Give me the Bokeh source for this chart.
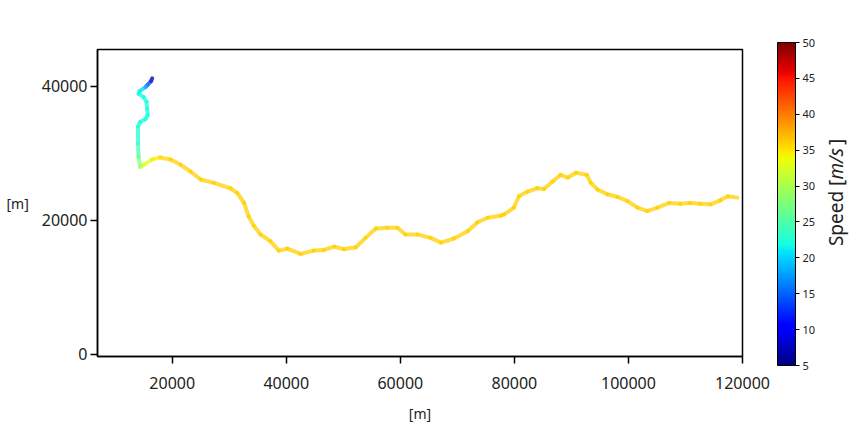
import numpy as np
from bokeh.plotting import figure
from bokeh.models import (ColumnDataSource, LinearColorMapper, ColorBar, FixedTicker,
                          BasicTickFormatter, Range1d)
from bokeh.layouts import row
from bokeh.embed import file_html
from bokeh.resources import INLINE
from bokeh.core.properties import value

# ---------------- data ----------------
path_x = [16500, 16300, 15300, 14300, 14100, 15000, 15500, 15600, 15700, 15300, 14400,
          14000, 14000, 14100, 14400, 15000, 16500, 17900, 19700, 21500, 23200, 25000,
          27300, 30200, 31400, 32600, 33400, 34300, 35500, 37200, 38700, 40200, 42500,
          44800, 46600, 48400, 50100, 52200, 53900, 55700, 57700, 59500, 60900, 63000,
          65300, 67100, 69400, 71800, 73500, 75300, 77600, 78200, 79900, 80800, 82300,
          84000, 85200, 86700, 88100, 89400, 90800, 92700, 93400, 94600, 96300, 98100,
          99800, 101600, 103300, 105100, 107100, 109100, 110800, 112600, 114400, 116100,
          117400, 119100]
path_y = [41200, 40800, 39900, 39300, 38900, 38400, 37700, 36700, 35700, 35100, 34700,
          34000, 31500, 29500, 28000, 28300, 29100, 29400, 29100, 28300, 27300, 26100,
          25600, 24800, 24100, 22600, 20600, 19200, 17900, 16900, 15500, 15800, 15000,
          15500, 15600, 16100, 15700, 16000, 17400, 18800, 18900, 18900, 17900, 17900,
          17400, 16700, 17300, 18400, 19700, 20400, 20700, 20900, 21900, 23600, 24300,
          24800, 24700, 25800, 26800, 26400, 27100, 26800, 25600, 24600, 23900, 23500,
          22900, 21900, 21400, 21900, 22600, 22500, 22600, 22500, 22400, 23000,
          23600, 23400]
speed = [5, 7, 19, 21, 22, 22, 22, 22, 22, 22, 22,
         22, 23, 26, 29, 32, 34, 35.5, 36, 36, 36, 36,
         36, 36, 36, 36, 36, 36, 36, 36, 36, 36, 36,
         36, 36, 36, 36, 36, 36, 36, 36, 36, 36, 36,
         36, 36, 36, 36, 36, 36, 36, 36, 36, 36, 36,
         36, 36, 36, 36, 36, 36, 36, 36, 36, 36, 36,
         36, 36, 36, 36, 36, 36, 36, 36, 36, 36,
         36, 36]

x_ticks = [20000, 40000, 60000, 80000, 100000, 120000]
y_ticks = [0, 20000, 40000]
cbar_ticks = [5, 10, 15, 20, 25, 30, 35, 40, 45, 50]
speed_low, speed_high = 5, 50
x_label = "[m]"
y_label = "[m]"
cbar_title = ["Speed [", "m/s", "]"]


# jet colormap (matplotlib segment definition)
def jet(n=256):
    t = np.linspace(0, 1, n)
    r = np.interp(t, [0, 0.35, 0.66, 0.89, 1], [0, 0, 1, 1, 0.5])
    g = np.interp(t, [0, 0.125, 0.375, 0.64, 0.91, 1], [0, 0, 1, 1, 0, 0])
    b = np.interp(t, [0, 0.11, 0.34, 0.65, 1], [0.5, 1, 1, 0, 0])
    return ["#%02x%02x%02x" % (int(round(a * 255)), int(round(c * 255)), int(round(d * 255)))
            for a, c, d in zip(r, g, b)]


mapper = LinearColorMapper(palette=jet(), low=speed_low, high=speed_high)

seg = ColumnDataSource(dict(
    x0=path_x[:-1], y0=path_y[:-1], x1=path_x[1:], y1=path_y[1:],
    spd=[(a + b) / 2 for a, b in zip(speed[:-1], speed[1:])],
))

FONT = "Noto Sans"
H = 432
TOP, BOTTOM = 49, 76
FRAME_H = H - TOP - BOTTOM

# ---------------- main plot ----------------
p = figure(width=776, height=H, x_range=Range1d(6900, 120000), y_range=Range1d(-300, 45500),
           output_backend="svg", toolbar_location=None,
           min_border_left=97, min_border_right=34, min_border_top=TOP, min_border_bottom=BOTTOM)
p.grid.visible = False
p.outline_line_color = "black"
p.outline_line_width = 1.5
p.background_fill_color = "white"

p.segment(x0="x0", y0="y0", x1="x1", y1="y1", source=seg,
          line_color={"field": "spd", "transform": mapper},
          line_width=4, line_alpha=0.75, line_cap="round")

for ax in (p.xaxis[0], p.yaxis[0]):
    ax.formatter = BasicTickFormatter(use_scientific=False)
    ax.minor_tick_line_color = None
    ax.major_tick_in = 0
    ax.major_tick_out = 7
    ax.major_tick_line_width = 1.5
    ax.axis_line_width = 1.5
    ax.major_label_text_font = FONT
    ax.major_label_text_font_size = "16px"
    ax.major_label_text_color = "#222222"

p.xaxis.ticker = FixedTicker(ticks=x_ticks)
p.yaxis.ticker = FixedTicker(ticks=y_ticks)
p.xaxis.major_label_standoff = 13
p.yaxis.major_label_standoff = 3
p.xaxis.axis_label = x_label
p.xaxis.axis_label_text_font = FONT
p.xaxis.axis_label_text_font_size = "14px"
p.xaxis.axis_label_text_font_style = "normal"
p.xaxis.axis_label_text_color = "#222222"
p.xaxis.axis_label_standoff = 12

yax = p.yaxis[0]
yax.axis_label = y_label
yax.axis_label_text_font = FONT
yax.axis_label_text_font_size = "14px"
yax.axis_label_text_font_style = "normal"
yax.axis_label_text_color = "#222222"
yax.axis_label_standoff = 10
if "axis_label_orientation" in type(yax).properties():
    yax.axis_label_orientation = "horizontal"

# ---------------- colour bar ----------------
p2 = figure(width=74, height=H, x_range=Range1d(0, 74), y_range=Range1d(0, FRAME_H),
            output_backend="svg", toolbar_location=None,
            min_border_left=0, min_border_right=0, min_border_top=TOP, min_border_bottom=BOTTOM,
            x_axis_location=None, y_axis_location=None)
p2.grid.visible = False
p2.outline_line_color = None

cb = ColorBar(color_mapper=mapper, ticker=FixedTicker(ticks=cbar_ticks),
              location=(1, -9), width=18, height=323, padding=0,
              bar_line_color="black", bar_line_width=1,
              major_tick_in=0, major_tick_out=4, major_tick_line_color="black",
              label_standoff=3, major_label_text_font=FONT,
              major_label_text_font_size="11px", major_label_text_color="#222222",
              border_line_color=None, background_fill_color=None)
p2.add_layout(cb)

# rotated title (reads bottom to top), split so the unit can be italic
fs = 19
em_widths = [3.50, 1.82, 0.32]
total = sum(em_widths) * fs
center_y = 164
starts = [center_y - total / 2]
for w in em_widths[:-1]:
    starts.append(starts[-1] + w * fs)
styles = ["normal", "italic", "normal"]
for txt, y0, st in zip(cbar_title, starts, styles):
    p2.text(x=[59], y=[y0], text=[txt], angle=np.pi / 2, text_align="left",
            text_baseline="middle", text_font=value(FONT), text_font_size="%dpx" % fs,
            text_font_style=st, text_color="#222222")

layout = row(p, p2)
open("out.html", "w").write(file_html(layout, INLINE))
